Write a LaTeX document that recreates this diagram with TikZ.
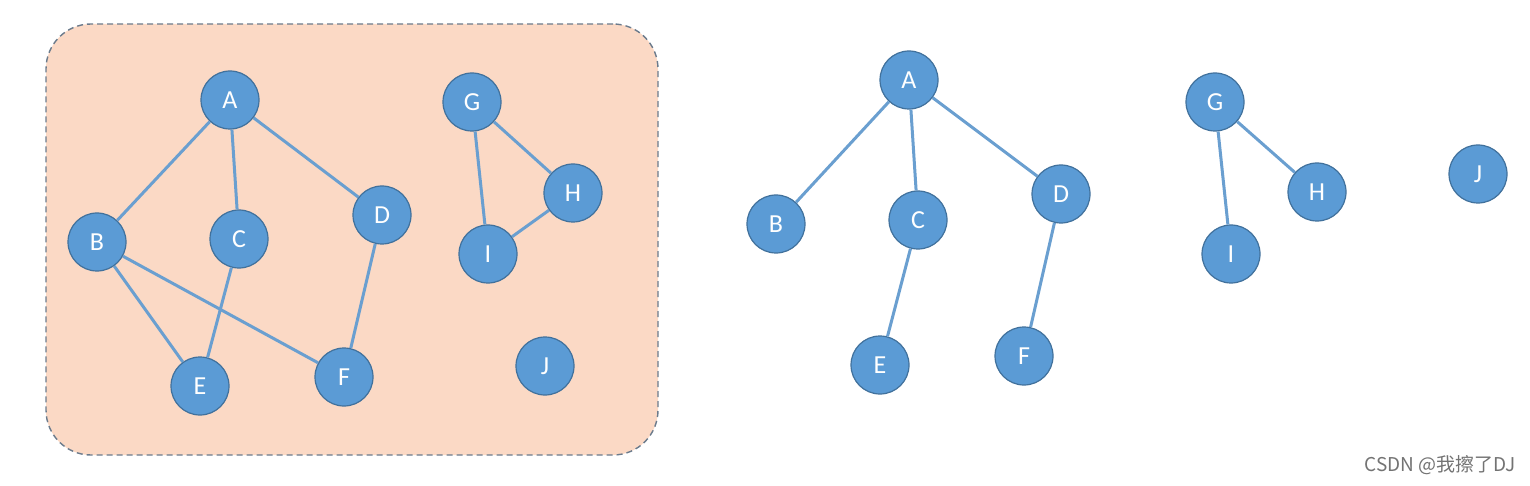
\documentclass[tikz,border=0pt]{standalone}
\usepackage{fontspec}
\setmainfont{Carlito}
\newfontfamily\cjkwm{Noto Sans CJK SC}
\begin{document}
\begin{tikzpicture}[x=1pt,y=-1pt,
  vtx/.style={circle,draw=nodeborder,line width=1.2pt,fill=nodefill,minimum size=58pt,inner sep=0pt,text=white,font=\fontsize{26}{28}\selectfont},
  edge/.style={draw=edgecol,line width=3pt}]
\definecolor{nodefill}{HTML}{5B9BD5}
\definecolor{nodeborder}{HTML}{41719C}
\definecolor{edgecol}{HTML}{6A9FD0}
\definecolor{boxfill}{HTML}{FBD9C5}
\definecolor{boxborder}{HTML}{6B7B8C}
\useasboundingbox (0,0) rectangle (1530,486);
\fill[white] (0,0) rectangle (1530,486);
\node[draw=boxborder,dash pattern=on 6pt off 4pt,line width=1.4pt,fill=boxfill,rounded corners=45pt,minimum width=612pt,minimum height=431pt,inner sep=0pt] (box) at (352,239.5) {};
% left graph
\node[vtx] (A) at (230,100) {A};
\node[vtx] (B) at (97,242) {B};
\node[vtx] (C) at (239,239) {C};
\node[vtx] (D) at (382,215) {D};
\node[vtx] (E) at (200,386) {E};
\node[vtx] (F) at (344,377) {F};
\node[vtx] (G) at (472,102) {G};
\node[vtx] (H) at (573,193) {H};
\node[vtx] (I) at (488,254) {I};
\node[vtx] (J) at (545,366) {J};
% right graph
\node[vtx] (A2) at (909,80) {A};
\node[vtx] (B2) at (776,224) {B};
\node[vtx] (C2) at (918,220) {C};
\node[vtx] (D2) at (1061,194) {D};
\node[vtx] (E2) at (880,365) {E};
\node[vtx] (F2) at (1024,356) {F};
\node[vtx] (G2) at (1215,102) {G};
\node[vtx] (H2) at (1317,192) {H};
\node[vtx] (I2) at (1231,254) {I};
\node[vtx] (J2) at (1478,174) {J};
\foreach \a/\b in {A/B,A/C,A/D,B/E,B/F,C/E,D/F,G/H,G/I,H/I,A2/B2,A2/C2,A2/D2,C2/E2,D2/F2,G2/H2,G2/I2}
  \draw[edge] (\a) -- (\b);
\node[text=black!55,font=\cjkwm\fontsize{19}{21}\selectfont,anchor=east,inner sep=0pt] (wm) at (1516,465) {CSDN @我擦了DJ};
\end{tikzpicture}
\end{document}
